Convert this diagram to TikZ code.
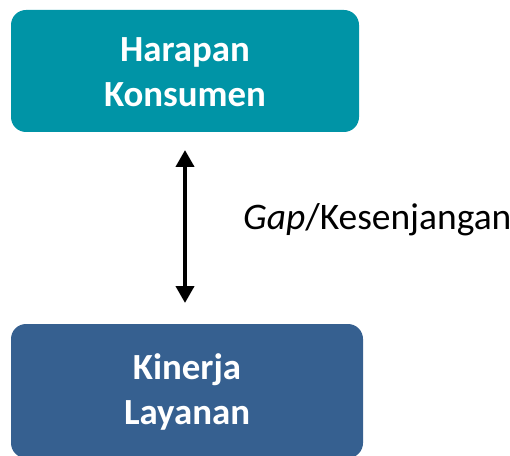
\documentclass[tikz,border=0pt]{standalone}
\usepackage{fontspec}
\setmainfont{Carlito}
\usetikzlibrary{arrows.meta}
\definecolor{tealbox}{RGB}{0,148,166}
\definecolor{bluebox}{RGB}{54,96,144}
\begin{document}
\begin{tikzpicture}[x=1bp,y=-1bp,
  box/.style={rounded corners=15bp, text=white, align=center,
    font=\fontsize{37}{45}\selectfont\bfseries, inner sep=0pt},
  link/.style={line width=4bp, {Triangle[width=18bp,length=17bp]}-{Triangle[width=18bp,length=17bp]}}]
  \useasboundingbox (0,0) rectangle (510,456);
  % the two boxes
  \fill[tealbox, rounded corners=15bp] (11,10) rectangle (359,132);
  \node[box, minimum width=348bp, minimum height=122bp] (harapan) at (185,72) {Harapan\\Konsumen};
  \fill[bluebox, rounded corners=15bp] (11,324) rectangle (363,458);
  \node[box, minimum width=352bp, minimum height=134bp] (kinerja) at (187,392) {Kinerja\\Layanan};
  % gap arrow between them
  \coordinate (atop) at (185,150);
  \coordinate (abot) at (185,303);
  \draw[link] (atop) -- (abot);
  \node[anchor=base west, inner sep=0pt, font=\fontsize{37.6}{40}\selectfont] (gap) at (243,230) {\textit{Gap}/Kesenjangan};
\end{tikzpicture}
\end{document}
